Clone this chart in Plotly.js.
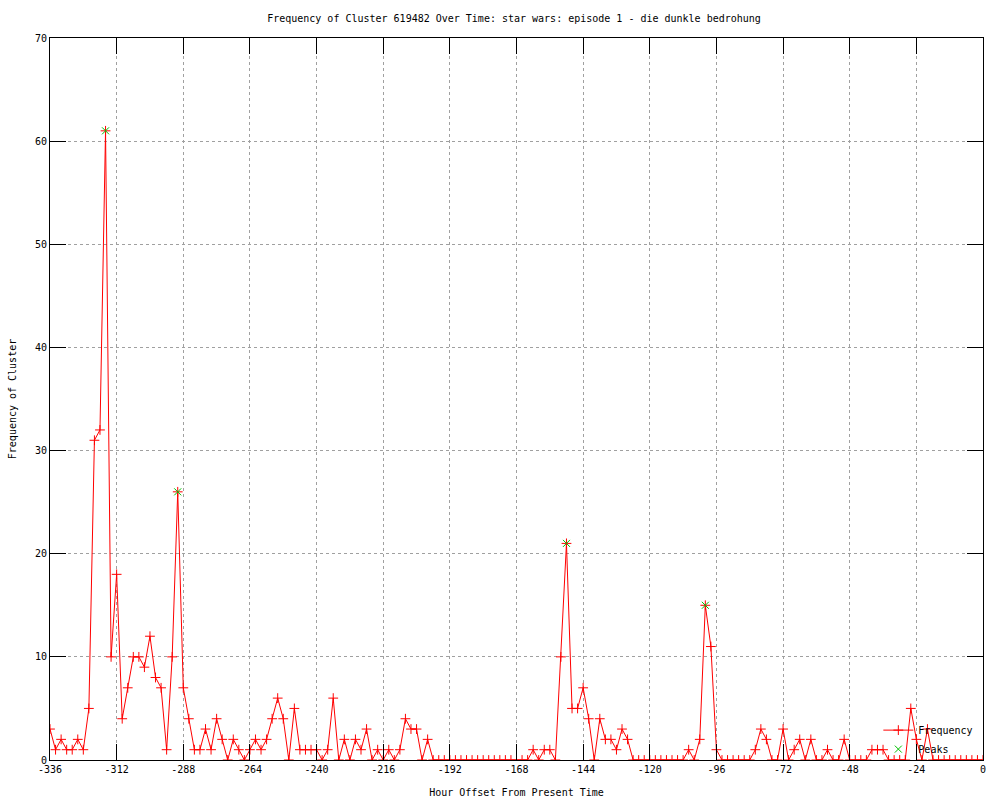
<!DOCTYPE html>
<html>
<head>
<meta charset="utf-8">
<script src="https://cdn.plot.ly/plotly-3.0.1.min.js"></script>
<style>html,body{margin:0;padding:0;background:#fff;}#chart{width:1000px;height:800px;}</style>
</head>
<body>
<div id="chart"></div>
<script>
// Hour offsets: -336 to 0 every 2 hours
const hours = [];
for (let h = -336; h <= 0; h += 2) hours.push(h);

const frequency = [
  3,1,2,1,1,2,1,5,31,32,
  61,10,18,4,7,10,10,9,12,8,
  7,1,10,26,7,4,1,1,3,1,
  4,2,0,2,1,0,1,2,1,2,
  4,6,4,0,5,1,1,1,1,0,
  1,6,0,2,0,2,1,3,0,1,
  0,1,0,1,4,3,3,0,2,0,
  0,0,0,0,0,0,0,0,0,0,
  0,0,0,0,0,0,0,1,0,1,
  1,0,10,21,5,5,7,4,0,4,
  2,2,1,3,2,0,0,0,0,0,
  0,0,0,0,0,1,0,2,15,11,
  1,0,0,0,0,0,0,1,3,2,
  0,0,3,0,1,2,0,2,0,0,
  1,0,0,2,0,0,0,0,1,1,
  1,0,0,0,0,5,2,0,3,0,
  0,0,0,0,0,0,0,0,0
];

const peakHours = [-316, -290, -150, -100];
const peakValues = [61, 26, 21, 15];

const xTickVals = [-336,-312,-288,-264,-240,-216,-192,-168,-144,-120,-96,-72,-48,-24,0];

const monoFont = {family: 'DejaVu Sans Mono, Liberation Mono, monospace', size: 10, color: '#000'};

const traces = [
  {
    x: hours, y: frequency, name: 'Frequency', type: 'scatter', mode: 'lines+markers',
    line: {color: '#ff0000', width: 1},
    marker: {symbol: 'cross-thin', size: 7, color: '#ff0000', line: {color: '#ff0000', width: 1}}
  },
  {
    x: peakHours, y: peakValues, name: 'Peaks', type: 'scatter', mode: 'markers',
    marker: {symbol: 'x-thin', size: 7, color: '#00c000', line: {color: '#00c000', width: 1}}
  }
];

const axisCommon = {
  showline: true, linecolor: '#000', linewidth: 1, mirror: 'ticks',
  ticks: 'inside', ticklen: 16, tickwidth: 1, tickcolor: '#000',
  showgrid: true, gridcolor: '#a0a0a0', gridwidth: 1, griddash: '3px,3px',
  zeroline: false, tickfont: monoFont
};

const layout = {
  width: 1000, height: 800,
  paper_bgcolor: '#fff', plot_bgcolor: '#fff',
  margin: {l: 50, r: 17, t: 38, b: 40},
  font: monoFont,
  title: {text: 'Frequency of Cluster 619482 Over Time: star wars: episode 1 - die dunkle bedrohung',
          font: monoFont, x: 0.514, xanchor: 'center', y: 0.977, yanchor: 'middle'},
  xaxis: Object.assign({}, axisCommon, {
    range: [-336, 0], tickmode: 'array', tickvals: xTickVals,
    ticktext: xTickVals.map(v => String(v)),
    title: {text: 'Hour Offset From Present Time', font: monoFont, standoff: 14}
  }),
  yaxis: Object.assign({}, axisCommon, {
    range: [0, 70], tick0: 0, dtick: 10,
    title: {text: 'Frequency of Cluster', font: monoFont, standoff: 16}
  }),
  showlegend: true,
  legend: {x: 0.995, y: -0.005, xanchor: 'right', yanchor: 'bottom', bgcolor: 'rgba(0,0,0,0)',
           font: monoFont, tracegroupgap: 0, itemwidth: 30}
};

Plotly.newPlot('chart', traces, layout, {displayModeBar: false, staticPlot: true});
</script>
</body>
</html>
